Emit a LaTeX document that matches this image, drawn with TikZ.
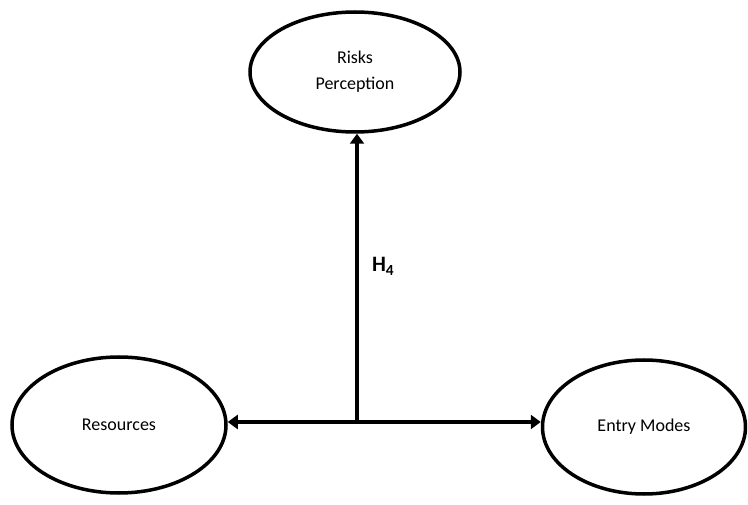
\documentclass[tikz,border=0pt]{standalone}
\usepackage{fontspec}
\setmainfont{Carlito}
\usetikzlibrary{shapes.geometric,arrows.meta}
\tikzset{
    construct/.style={ellipse, draw, line width=3.5pt, inner sep=0pt, align=center,
        font=\fontsize{18}{26}\selectfont},
    link/.style={line width=3.5pt, -{Triangle[length=10pt,width=14pt]}}
}
\begin{document}
\begin{tikzpicture}[x=1pt,y=-1pt]
    \useasboundingbox (0,0) rectangle (748,505);
    % constructs
    \node[construct, minimum width=210pt, minimum height=120pt] (risk) at (355,72) {Risks\\Perception};
    \node[construct, minimum width=214pt, minimum height=136pt] (res) at (119,425) {Resources};
    \node[construct, minimum width=203pt, minimum height=134pt] (entry) at (644,427) {Entry Modes};
    \coordinate (hub) at (357,422);
    % hypotheses
    \draw[link] (hub) -- (risk.south -| hub) node[pos=0.54, right=10pt, font=\fontsize{22}{24}\selectfont\bfseries] {H\textsubscript{4}};
    \draw[link, {Triangle[length=10pt,width=14pt]}-{Triangle[length=10pt,width=14pt]}] (res.east |- hub) -- (entry.west |- hub);
\end{tikzpicture}
\end{document}
